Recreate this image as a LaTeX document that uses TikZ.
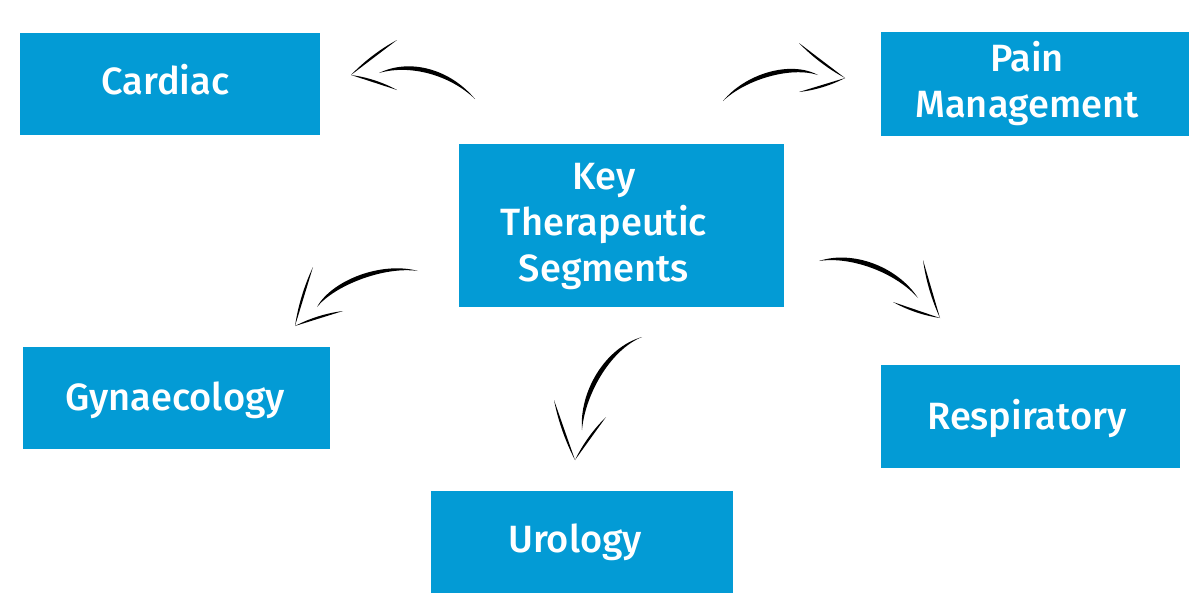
\documentclass[tikz,border=0pt]{standalone}
\usepackage{fontspec}
\setmainfont{Fira Sans}[BoldFont={Fira Sans Medium}]
\usetikzlibrary{calc}
\definecolor{segblue}{HTML}{039BD5}

% tapered brush strokes for the hand drawn arrows
\newcommand\brush[5]{\fill (#1) .. controls (#2) and (#3) .. (#4) .. controls ($(#3)+(#5)$) and ($(#2)+(#5)$) .. (#1);}
\newcommand\barb[3]{\fill (#1) -- (#2) .. controls ($(#1)!.67!(#2)!#3!90:(#2)$) and ($(#1)!.33!(#2)!#3!90:(#2)$) .. (#1) -- cycle;}

\begin{document}
\begin{tikzpicture}[x=1pt, y=-1pt,
    seg/.style = {fill=segblue, inner sep=0},
    segtext/.style = {text=white, font=\bfseries\fontsize{38}{46}\selectfont, align=center, inner sep=0, anchor=base}]
    \useasboundingbox (0,0) rectangle (1200,600);

    \node[seg, minimum width=300, minimum height=102] (cardiac) at (170,84) {};
    \node[seg, minimum width=308, minimum height=104] (pain) at (1035,84) {};
    \node[seg, minimum width=325, minimum height=163] (key) at (621.5,225.5) {};
    \node[seg, minimum width=307, minimum height=102] (gyn) at (176.5,398) {};
    \node[seg, minimum width=299, minimum height=103] (resp) at (1030.5,416.5) {};
    \node[seg, minimum width=302, minimum height=102] (uro) at (582,542) {};

    \node[segtext] (cardiac-t) at (165.5,94.5) {Cardiac};
    \node[segtext] (pain-t) at (1027,117.5) {Pain\\Management};
    \node[segtext] (key-t) at (604,281.5) {Key\\Therapeutic\\Segments};
    \node[segtext] (gyn-t) at (175,410.5) {Gynaecology};
    \node[segtext] (resp-t) at (1027,429.5) {Respiratory};
    \node[segtext] (uro-t) at (575,552.5) {Urology};

    \coordinate (ca1) at (475,99);
    \coordinate (ca2) at (379,73);
    \coordinate (ca3) at (351,75);
    \coordinate (pa1) at (723,101);
    \coordinate (pa2) at (818,75);
    \coordinate (pa3) at (845,78);
    \coordinate (ga1) at (418,271);
    \coordinate (ga2) at (317,307);
    \coordinate (ga3) at (295,326);
    \coordinate (ra1) at (819,261);
    \coordinate (ra2) at (918,298);
    \coordinate (ra3) at (940,318);
    \coordinate (ua1) at (642,337);
    \coordinate (ua2) at (582,430);
    \coordinate (ua3) at (575,460);

    \brush{ca1}{450,75}{410,64}{ca2}{0,-6}
    \barb{ca3}{397,40}{3pt}
    \barb{ca3}{397,90}{3pt}

    \brush{pa1}{745,80}{790,66}{pa2}{0,-6}
    \barb{pa3}{799,43}{3pt}
    \barb{pa3}{799,92}{3pt}

    \brush{ga1}{385,266}{335,285}{ga2}{-3,-5}
    \barb{ga3}{313,267}{3pt}
    \barb{ga3}{343,311}{3pt}

    \brush{ra1}{850,256}{895,272}{ra2}{2,-6}
    \barb{ra3}{923,260}{3pt}
    \barb{ra3}{893,302}{3pt}

    \brush{ua1}{610,350}{585,395}{ua2}{-6,-2}
    \barb{ua3}{554,400}{3pt}
    \barb{ua3}{606,417}{3pt}
\end{tikzpicture}
\end{document}
